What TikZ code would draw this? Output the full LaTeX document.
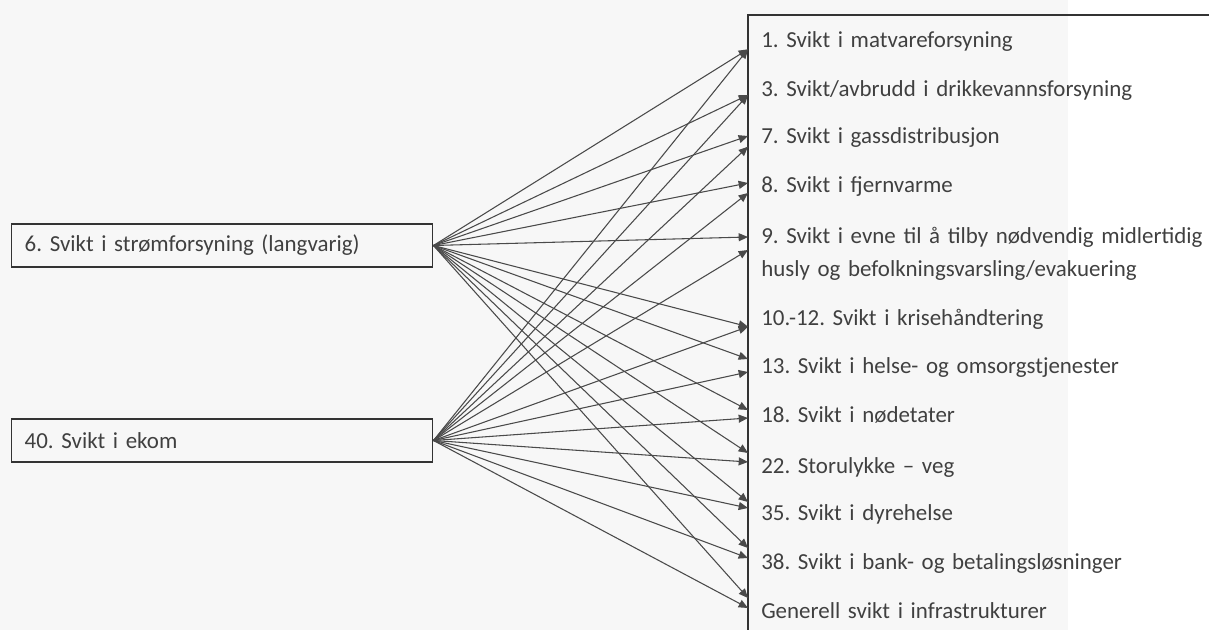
\documentclass[tikz,border=0pt]{standalone}
\usepackage{fontspec}
\setmainfont{Carlito}[WordSpace=0.7]
\usepackage{tikz}
\usetikzlibrary{arrows.meta, calc}
\definecolor{pagegray}{HTML}{F7F7F7}
\definecolor{framegray}{HTML}{333333}
\definecolor{linkgray}{HTML}{4A4A4A}
\definecolor{textgray}{HTML}{404040}
\frenchspacing

\begin{document}
\begin{tikzpicture}[x=0.75pt, y=-0.75pt,
        causebox/.style={draw=framegray, line width=1.1pt, anchor=west, inner xsep=9.75pt, inner ysep=0pt, minimum width=315.75pt, minimum height=32.25pt, text width=296.25pt, align=left, text=textgray, font=\fontsize{17.2pt}{25pt}\selectfont},
        effect/.style={anchor=base west, inner sep=0pt, text width=345pt, align=left, text=textgray, font=\fontsize{17.2pt}{25pt}\selectfont},
        link/.style={-{Triangle[length=7pt, width=6pt]}, line width=0.8pt, linkgray},
    ]
        \useasboundingbox (0,0) rectangle (1209,630);
        \fill[pagegray] (0,0) rectangle (1068,630);

        % Causes
        \node[causebox] (strom) at (11,245.5) {6. Svikt i strømforsyning (langvarig)};
        \node[causebox] (ekom) at (11,440.5) {40. Svikt i ekom};

        % Consequences
        \node[effect] (e1) at (761,47.7) {1. Svikt i matvareforsyning};
        \node[effect] (e3) at (761,96.7) {3. Svikt/avbrudd i drikkevannsforsyning};
        \node[effect] (e7) at (761,144) {7. Svikt i gassdistribusjon};
        \node[effect] (e8) at (761,192.7) {8. Svikt i fjernvarme};
        \node[effect] (e9) at (761,243.3) {9. Svikt i evne til å tilby nødvendig midlertidig\\husly og befolkningsvarsling/evakuering};
        \node[effect] (e10) at (761,326) {10.-12. Svikt i krisehåndtering};
        \node[effect] (e13) at (761,373.3) {13. Svikt i helse- og omsorgstjenester};
        \node[effect] (e18) at (761,422) {18. Svikt i nødetater};
        \node[effect] (e22) at (761,473.3) {22. Storulykke -- veg};
        \node[effect] (e35) at (761,520) {35. Svikt i dyrehelse};
        \node[effect] (e38) at (761,569) {38. Svikt i bank- og betalingsløsninger};
        \node[effect] (egen) at (761,618.3) {Generell svikt i infrastrukturer};

        % Frame round the consequences
        \draw[framegray, line width=1.3pt] (748,640) -- (748,15) -- (1220,15);

        % From power supply
        \draw[link] (strom.east) -- ($(e1.base west)+(-13,1.6)$);
        \draw[link] (strom.east) -- ($(e3.base west)+(-13,-1.7)$);
        \draw[link] (strom.east) -- ($(e7.base west)+(-13,-8)$);
        \draw[link] (strom.east) -- ($(e8.base west)+(-13,-9.7)$);
        \draw[link] (strom.east) -- ($(e9.base west)+(-13,-6.3)$);
        \draw[link] (strom.east) -- ($(e10.base west)+(-13,0.7)$);
        \draw[link] (strom.east) -- ($(e13.base west)+(-13,-14.3)$);
        \draw[link] (strom.east) -- ($(e18.base west)+(-13,-12)$);
        \draw[link] (strom.east) -- ($(e22.base west)+(-13,-20.3)$);
        \draw[link] (strom.east) -- ($(e35.base west)+(-13,-18)$);
        \draw[link] (strom.east) -- ($(e38.base west)+(-13,-21)$);
        \draw[link] (strom.east) -- ($(egen.base west)+(-13,-20.3)$);

        % From ekom
        \draw[link] (ekom.east) -- ($(e1.base west)+(-13,1.6)$);
        \draw[link] (ekom.east) -- ($(e3.base west)+(-13,-1.7)$);
        \draw[link] (ekom.east) -- ($(e7.base west)+(-13,2.7)$);
        \draw[link] (ekom.east) -- ($(e8.base west)+(-13,0.3)$);
        \draw[link] (ekom.east) -- ($(e9.base west)+(-13,6.7)$);
        \draw[link] (ekom.east) -- ($(e10.base west)+(-13,0.7)$);
        \draw[link] (ekom.east) -- ($(e13.base west)+(-13,-1.3)$);
        \draw[link] (ekom.east) -- ($(e18.base west)+(-13,-4)$);
        \draw[link] (ekom.east) -- ($(e22.base west)+(-13,-11.3)$);
        \draw[link] (ekom.east) -- ($(e35.base west)+(-13,-12)$);
        \draw[link] (ekom.east) -- ($(e38.base west)+(-13,-11)$);
        \draw[link] (ekom.east) -- ($(egen.base west)+(-13,-10.3)$);
    \end{tikzpicture}
\end{document}
